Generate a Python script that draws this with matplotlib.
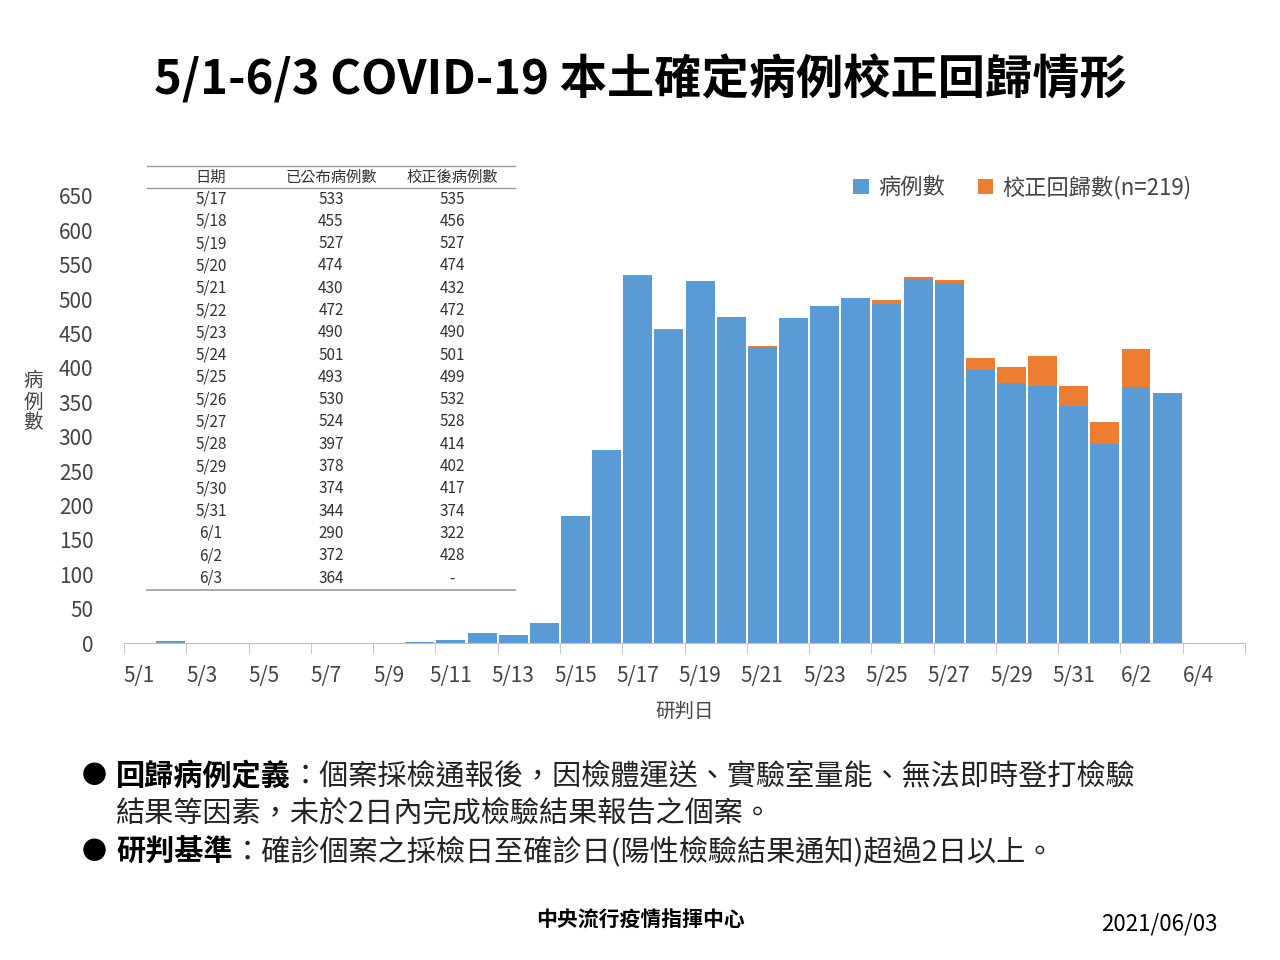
import matplotlib
matplotlib.use("Agg")
import matplotlib.pyplot as plt
import numpy as np

plt.rcParams['font.family'] = ['Noto Sans CJK TC', 'DejaVu Sans']

dates = ["5/1","5/2","5/3","5/4","5/5","5/6","5/7","5/8","5/9","5/10","5/11","5/12","5/13","5/14","5/15","5/16",
         "5/17","5/18","5/19","5/20","5/21","5/22","5/23","5/24","5/25","5/26","5/27","5/28","5/29","5/30","5/31","6/1","6/2","6/3"]
cases = [0,3,0,0,0,0,0,0,0,1,5,15,12,29,185,281,
         533,455,527,474,430,472,490,501,493,530,524,397,378,374,344,290,372,364]
corrected = [0,3,0,0,0,0,0,0,0,1,5,15,12,29,185,281,
             535,456,527,474,432,472,490,501,499,532,528,414,402,417,374,322,428,364]
tick_labels = ["5/1","5/3","5/5","5/7","5/9","5/11","5/13","5/15","5/17","5/19","5/21","5/23","5/25","5/27","5/29","5/31","6/2","6/4"]
tbl_dates = dates[16:]
tbl_pub = [str(v) for v in cases[16:]]
tbl_cor = [str(v) for v in corrected[16:-1]] + ["-"]

fig = plt.figure(figsize=(12.8, 9.6), dpi=100)
ax = fig.add_axes([124/1280, 1-643/960, (1245-124)/1280, (643-196)/960])
x = np.arange(len(dates))
blue = "#5B9BD5"; orange = "#ED7D31"
diff = np.array(corrected) - np.array(cases)
ax.bar(x, cases, width=0.93, color=blue, label="病例數")
ax.bar(x, diff, bottom=cases, width=0.93, color=orange, label="校正回歸數(n=219)")
ax.set_xlim(-0.5, 35.5)
ax.set_ylim(0, 650)
ax.set_yticks(range(0, 651, 50))
ax.set_xticks(np.arange(0, 36, 2))
ax.set_xticklabels(tick_labels)
ax.set_xticks(np.arange(-0.5, 36, 2), minor=True)
ax.tick_params(axis='x', which='major', length=0, pad=16, labelsize=15, colors="#444444")
ax.tick_params(axis='x', which='minor', length=8, color="#BFBFBF")
ax.tick_params(axis='y', length=0, labelsize=15, colors="#444444", pad=22)
for s in ["top", "right", "left"]:
    ax.spines[s].set_visible(False)
ax.spines["bottom"].set_color("#BFBFBF")
ax.set_xlabel("研判日", fontsize=14, color="#444444", labelpad=10)
fig.text(33/1280, 1-402/960, "病\n例\n數", fontsize=14, color="#444444", ha="center", va="center", linespacing=1.0)
ax.legend(loc="upper right", bbox_to_anchor=(0.97, 1.09), ncol=2, frameon=False, fontsize=16,
          handlelength=0.7, handleheight=0.7, columnspacing=1.5, handletextpad=0.4, labelcolor="#444444")

fig.text(0.5, 1-80/960, "5/1-6/3 COVID-19 本土確定病例校正回歸情形", fontsize=34, fontweight="bold", ha="center", va="center")

# table
cols = [211, 331, 452]
hy = 177
for cx, t in zip(cols, ("日期", "已公布病例數", "校正後病例數")):
    fig.text(cx/1280, 1-hy/960, t, fontsize=11, ha="center", va="center", color="#333333")
fig.add_artist(plt.Line2D([147/1280, 515/1280], [1-166/960]*2, color="#999999", lw=1))
fig.add_artist(plt.Line2D([147/1280, 515/1280], [1-188/960]*2, color="#999999", lw=1))
fig.add_artist(plt.Line2D([147/1280, 515/1280], [1-590/960]*2, color="#999999", lw=1.2))
for i, (d, p, c) in enumerate(zip(tbl_dates, tbl_pub, tbl_cor)):
    yy = 1 - (199 + i*22.3)/960
    for cx, t in zip(cols, (d, p, c)):
        fig.text(cx/1280, yy, t, fontsize=11, ha="center", va="center", color="#333333")

# notes
renderer = fig.canvas.get_renderer()
def pair(y, bold, rest):
    fig.text(82/1280, 1-y/960, "●", fontsize=18, va="center")
    t = fig.text(116/1280, 1-y/960, bold, fontsize=21, fontweight="bold", va="center")
    bb = t.get_window_extent(renderer)
    fig.text(bb.x1/1280, 1-y/960, rest, fontsize=21, va="center", color="#222222")
pair(776, "回歸病例定義", "：個案採檢通報後，因檢體運送、實驗室量能、無法即時登打檢驗")
fig.text(116/1280, 1-813/960, "結果等因素，未於2日內完成檢驗結果報告之個案。", fontsize=21, va="center", color="#222222")
pair(852, "研判基準", "：確診個案之採檢日至確診日(陽性檢驗結果通知)超過2日以上。")
fig.text(640/1280, 1-920/960, "中央流行疫情指揮中心", fontsize=15, fontweight="bold", ha="center", va="center")
fig.text(1218/1280, 1-924/960, "2021/06/03", fontsize=16, ha="right", va="center")

fig.savefig("out.png", dpi=100)
